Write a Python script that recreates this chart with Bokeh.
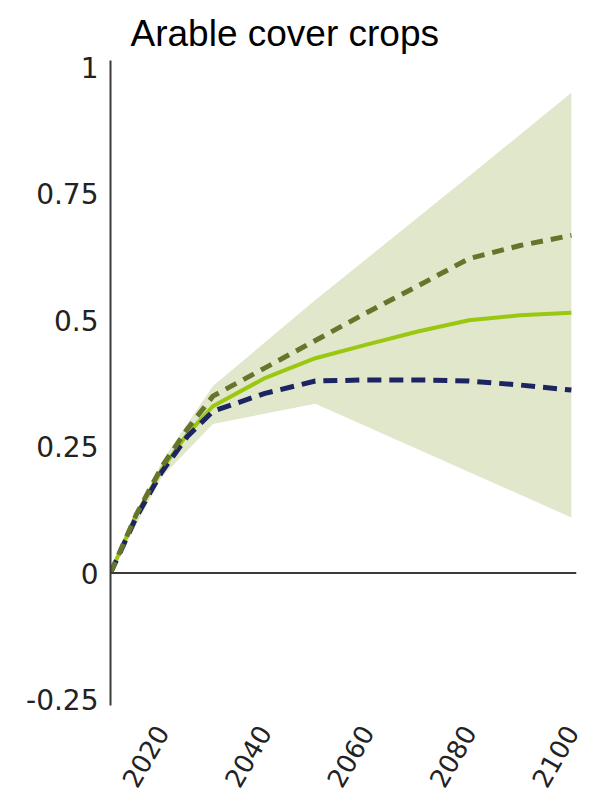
import math
from bokeh.plotting import figure
from bokeh.models import Span, FixedTicker, Range1d
from bokeh.embed import file_html
from bokeh.resources import INLINE

# ---- data ----
years = [2010, 2015, 2020, 2025, 2030, 2040, 2050, 2060, 2070, 2080, 2090, 2100]
central = [0, 0.115, 0.205, 0.275, 0.33, 0.385, 0.425, 0.452, 0.478, 0.50, 0.51, 0.515]
high = [0, 0.115, 0.21, 0.285, 0.35, 0.405, 0.46, 0.515, 0.568, 0.622, 0.648, 0.668]
low = [0, 0.11, 0.20, 0.27, 0.32, 0.355, 0.38, 0.382, 0.382, 0.38, 0.372, 0.362]

band_years = [2010, 2020, 2030, 2050, 2080, 2100]
band_lower = [0, 0.19, 0.295, 0.335, 0.20, 0.11]
band_upper = [0, 0.22, 0.37, 0.54, 0.785, 0.95]

x_ticks = [2020, 2040, 2060, 2080, 2100]
y_ticks = [-0.25, 0, 0.25, 0.5, 0.75, 1]
y_tick_labels = ["-0.25", "0", "0.25", "0.5", "0.75", "1"]

title_text = "Arable cover crops"

# ---- figure ----
p = figure(width=588, height=801,
           x_range=Range1d(2010, 2101), y_range=Range1d(-0.262, 1.014),
           output_backend="svg", toolbar_location=None, title=title_text)
p.min_border_left = 110
p.min_border_right = 12
p.min_border_top = 60
p.min_border_bottom = 96
p.outline_line_color = None
p.xgrid.grid_line_color = None
p.ygrid.grid_line_color = None
p.background_fill_color = "white"
p.border_fill_color = "white"

p.title.text_font = "Liberation Sans"
p.title.text_font_size = "37px"
p.title.text_font_style = "normal"
p.title.text_color = "black"
p.title.align = "left"
p.title.offset = 20
p.title.standoff = 14

# band
p.varea(x=band_years, y1=band_lower, y2=band_upper, fill_color="#e0e7ca", fill_alpha=1.0)

# lines
p.line(years, central, line_color="#9ac70f", line_width=4)
p.line(years, low, line_color="#1c2462", line_width=5, line_dash="14 8")
p.line(years, high, line_color="#66752b", line_width=5, line_dash="12 8")

# zero line
p.add_layout(Span(location=0, dimension="width", line_color="#3a3a3a", line_width=2))

# x axis
p.xaxis.ticker = FixedTicker(ticks=x_ticks)
p.xaxis.axis_line_color = None
p.xaxis.major_tick_line_color = None
p.xaxis.minor_tick_line_color = None
p.xaxis.major_tick_out = 0
p.xaxis.major_tick_in = 0
p.xaxis.major_label_orientation = math.pi / 3
p.xaxis.major_label_text_font = "DejaVu Sans"
p.xaxis.major_label_text_font_size = "26px"
p.xaxis.major_label_text_color = "#222222"
p.xaxis.major_label_standoff = 22

# y axis
p.yaxis.ticker = FixedTicker(ticks=y_ticks)
p.yaxis.major_label_overrides = {t: l for t, l in zip(y_ticks, y_tick_labels)}
p.yaxis.axis_line_color = "#3a3a3a"
p.yaxis.axis_line_width = 2
p.yaxis.major_tick_line_color = None
p.yaxis.minor_tick_line_color = None
p.yaxis.major_tick_out = 0
p.yaxis.major_tick_in = 0
p.yaxis.major_label_text_font = "DejaVu Sans"
p.yaxis.major_label_text_font_size = "28px"
p.yaxis.major_label_text_color = "#222222"
p.yaxis.major_label_standoff = 12

open("out.html", "w").write(file_html(p, INLINE))
